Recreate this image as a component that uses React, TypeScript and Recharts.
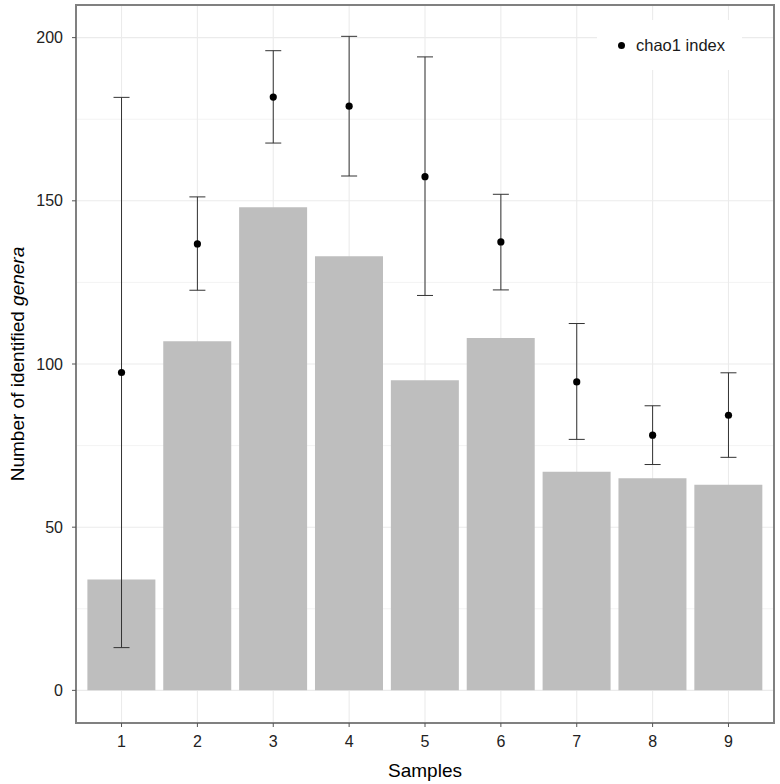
import {
  ComposedChart, Bar, Scatter, ErrorBar, XAxis, YAxis,
  CartesianGrid, ReferenceArea, Legend,
} from 'recharts'

const SAMPLES = [1, 2, 3, 4, 5, 6, 7, 8, 9]
const GENERA = [34, 107, 148, 133, 95, 108, 67, 65, 63]
const CHAO1 = [97.4, 136.8, 181.8, 179.0, 157.4, 137.4, 94.5, 78.2, 84.3]
const CHAO1_LOW = [13.1, 122.6, 167.7, 157.6, 121.0, 122.7, 76.9, 69.2, 71.4]
const CHAO1_HIGH = [181.7, 151.2, 196.0, 200.4, 194.1, 152.0, 112.4, 87.2, 97.3]
const Y_TICKS = [0, 50, 100, 150, 200]
const Y_MINOR = [25, 75, 125, 175]

const FONT = '"Liberation Sans", Arial, Helvetica, sans-serif'

const data = SAMPLES.map((s, i) => ({
  sample: s,
  genera: GENERA[i],
  chao1: CHAO1[i],
  err: [CHAO1[i] - CHAO1_LOW[i], CHAO1_HIGH[i] - CHAO1[i]],
}))

// eslint-disable-next-line @typescript-eslint/no-explicit-any
function Dot(props: any) {
  if (props.cx == null || props.cy == null) return null
  return <circle cx={props.cx} cy={props.cy} r={3.6} fill="#000" />
}

function LegendBox() {
  return (
    <div style={{
      width: 145, height: 50, background: '#fff', display: 'flex',
      alignItems: 'center', fontFamily: FONT, fontSize: 16.5, color: '#1a1a1a',
    }}>
      <span style={{
        display: 'inline-block', width: 7, height: 7, borderRadius: '50%',
        background: '#000', marginLeft: 21, marginRight: 11,
      }} />
      <span>chao1 index</span>
    </div>
  )
}

// eslint-disable-next-line @typescript-eslint/no-explicit-any
function YTitle({ viewBox }: any) {
  const cx = viewBox.x + 17
  const cy = viewBox.y + viewBox.height / 2
  return (
    <text
      x={cx} y={cy} transform={`rotate(-90, ${cx}, ${cy})`}
      textAnchor="middle" dominantBaseline="central"
      style={{ fontFamily: FONT, fontSize: 19, fill: '#000' }}
    >
      Number of identified <tspan fontStyle="italic">genera</tspan>
    </text>
  )
}

// eslint-disable-next-line @typescript-eslint/no-explicit-any
function XTitle({ viewBox }: any) {
  const cx = viewBox.x + viewBox.width / 2
  const cy = viewBox.y + 47
  return (
    <text
      x={cx} y={cy} textAnchor="middle" dominantBaseline="central"
      style={{ fontFamily: FONT, fontSize: 19, fill: '#000' }}
    >
      Samples
    </text>
  )
}

export default function App() {
  return (
    <div>
      <style>{'body { margin: 0; background: #fff; }'}</style>
      <ComposedChart
        width={780}
        height={784}
        data={data}
        margin={{ top: 5, right: 6, left: 0, bottom: 0 }}
        barCategoryGap="5%"
      >
        <CartesianGrid vertical={false} horizontalValues={Y_MINOR} stroke="#f3f3f3" strokeWidth={1} />
        <CartesianGrid stroke="#ebebeb" strokeWidth={1.1} />
        <XAxis
          dataKey="sample"
          type="number"
          domain={[0.4, 9.6]}
          ticks={SAMPLES}
          allowDataOverflow
          height={61}
          axisLine={false}
          tickLine={{ stroke: '#555' }}
          tickSize={4}
          tickMargin={9}
          tick={{ fontFamily: FONT, fontSize: 16, fill: '#222' }}
          label={{ content: <XTitle /> }}
        />
        <YAxis
          type="number"
          domain={[-10, 210]}
          ticks={Y_TICKS}
          allowDataOverflow
          width={76}
          axisLine={false}
          tickLine={{ stroke: '#555' }}
          tickSize={4}
          tickMargin={9}
          tick={{ fontFamily: FONT, fontSize: 16, fill: '#222' }}
          label={{ content: <YTitle /> }}
        />
        <Bar dataKey="genera" fill="#bebebe" isAnimationActive={false} legendType="none" />
        <Scatter dataKey="chao1" name="chao1 index" shape={<Dot />} isAnimationActive={false}>
          <ErrorBar dataKey="err" direction="y" width={8} stroke="#333" strokeWidth={1} />
        </Scatter>
        <ReferenceArea x1={0.4} x2={9.6} y1={-10} y2={210} fill="none" stroke="#808080" strokeWidth={2} />
        <Legend
          layout="horizontal"
          verticalAlign="middle"
          align="center"
          wrapperStyle={{ top: 20, left: 597, width: 145, height: 50 }}
          content={<LegendBox />}
        />
      </ComposedChart>
    </div>
  )
}
